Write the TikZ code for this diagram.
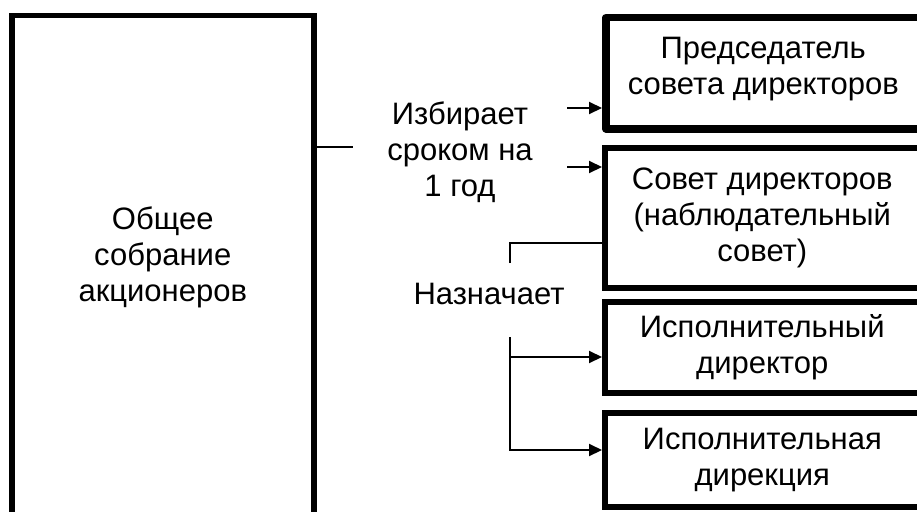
\documentclass[tikz,border=0pt]{standalone}
\usepackage{fontspec}
\setmainfont{Liberation Sans}
\usetikzlibrary{arrows.meta}

\begin{document}
\begin{tikzpicture}[x=1pt, y=-1pt,
    box/.style={draw, rectangle, line width=5.5pt, inner sep=0pt, align=center, anchor=north west},
    conn/.style={line width=2pt},
    arr/.style={conn, -{Triangle[length=13pt, width=12pt]}},
    every node/.style={font=\fontsize{31}{36}\selectfont}]
  \useasboundingbox (0,0) rectangle (917,511);
  \clip (0,0) rectangle (917,511);
  % boxes (right edges run off the page)
  \node (gsm) [box, minimum width=302pt, minimum height=510pt] at (9,13) {Общее\\собрание\\акционеров\rule[-33pt]{0pt}{33pt}};
  \node (chair) [box, line width=7.5pt, line join=round, minimum width=315pt, minimum height=111pt] at (602,14) {Председатель\\совета директоров\rule[-15pt]{0pt}{15pt}};
  \node (board) [box, minimum width=315pt, minimum height=140pt] at (602,145) {Совет директоров\\(наблюдательный\\совет)};
  \node (ceo) [box, minimum width=315pt, minimum height=91pt] at (602,299) {Исполнительный\\директор};
  \node (dir) [box, minimum width=315pt, minimum height=94pt] at (602,410) {Исполнительная\\дирекция};
  % labels
  \node (elect) [align=center, inner sep=0pt] at (460,152) {Избирает\\сроком на\\1 год};
  \node (appoint) [inner sep=0pt] at (489,294) {Назначает};
  % connectors
  \coordinate (e1) at (353,147);
  \coordinate (a1) at (567,108);
  \coordinate (a2) at (567,167);
  \coordinate (c1) at (510,243);
  \coordinate (n1) at (510,263);
  \coordinate (n2) at (510,337);
  \coordinate (b1) at (510,357);
  \coordinate (b2) at (510,450);
  \draw[conn] (gsm.east |- e1) -- (e1);
  \draw[arr] (a1) -- (a1 -| chair.west);
  \draw[arr] (a2) -- (a2 -| board.west);
  \draw[conn] (n1) -- (c1) -- (c1 -| board.west);
  \draw[arr] (n2) |- (b2 -| dir.west);
  \draw[arr] (b1) -- (b1 -| ceo.west);
\end{tikzpicture}
\end{document}
